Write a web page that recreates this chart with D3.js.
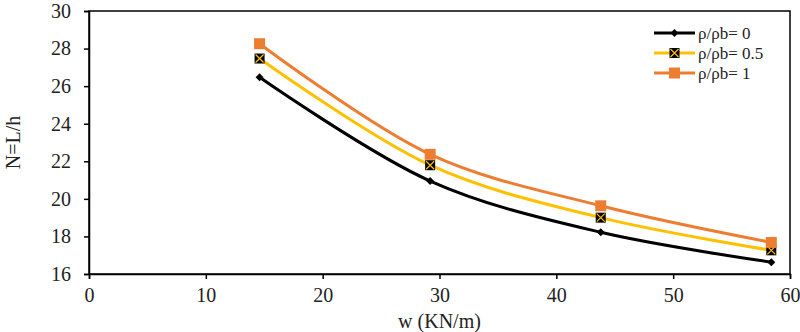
<!DOCTYPE html>
<html>
<head>
<meta charset="utf-8">
<script src="https://cdn.jsdelivr.net/npm/d3@7"></script>
<style>
  body { margin: 0; background: #fff; }
  svg text { font-family: "Liberation Serif", serif !important; }
</style>
</head>
<body>
<div id="chart"></div>
<script>
// data
const loads = [14.6, 29.2, 43.8, 58.4];
const ratio0 = [26.47, 20.95, 18.22, 16.63];
const ratio05 = [27.47, 21.79, 19.0, 17.26];
const ratio1 = [28.26, 22.37, 19.63, 17.68];
const seriesNames = ["ρ/ρb= 0", "ρ/ρb= 0.5", "ρ/ρb= 1"];
const xTicks = [0, 10, 20, 30, 40, 50, 60];
const yTicks = [16, 18, 20, 22, 24, 26, 28, 30];

const width = 800, height = 332;
const margin = { top: 11, right: 10, bottom: 58, left: 89 };
const innerW = width - margin.left - margin.right;
const innerH = height - margin.top - margin.bottom;

const svg = d3.select("#chart").append("svg")
  .attr("width", width)
  .attr("height", height);

const chart = svg.append("g")
  .attr("transform", `translate(${margin.left},${margin.top})`);

const xScale = d3.scaleLinear().domain([0, 60]).range([0, innerW]);
const yScale = d3.scaleLinear().domain([16, 30]).range([innerH, 0]);

// frame
chart.append("rect")
  .attr("width", innerW)
  .attr("height", innerH)
  .attr("fill", "none")
  .attr("stroke", "#000")
  .attr("stroke-width", 1.5);

const xAxis = chart.append("g")
  .attr("transform", `translate(0,${innerH})`)
  .call(d3.axisBottom(xScale).tickValues(xTicks).tickSize(5).tickPadding(9));
const yAxis = chart.append("g")
  .call(d3.axisLeft(yScale).tickValues(yTicks).tickSize(5).tickPadding(13));

[xAxis, yAxis].forEach(ax => {
  ax.attr("font-family", "Liberation Serif");
  ax.select(".domain").attr("stroke-width", 1.5);
  ax.selectAll(".tick line").attr("stroke-width", 1.5);
  ax.selectAll("text")
    .attr("font-size", 20)
    .attr("fill", "#222");
});

svg.append("text")
  .attr("x", margin.left + innerW / 2)
  .attr("y", height - 4)
  .attr("text-anchor", "middle")
  .attr("font-size", 20)
  .attr("fill", "#222")
  .text("w (KN/m)");

svg.append("text")
  .attr("transform", `translate(20,${margin.top + innerH / 2}) rotate(-90)`)
  .attr("text-anchor", "middle")
  .attr("font-size", 20)
  .attr("fill", "#222")
  .text("N=L/h");

const series = [
  { name: seriesNames[0], values: ratio0, color: "#000000", marker: "diamond" },
  { name: seriesNames[1], values: ratio05, color: "#FFC000", marker: "xbox" },
  { name: seriesNames[2], values: ratio1, color: "#ED7D31", marker: "square" }
];

const line = d3.line()
  .x((d, i) => xScale(loads[i]))
  .y(d => yScale(d))
  .curve(d3.curveCatmullRom.alpha(0.5));

function drawMarker(g, type, color) {
  if (type === "diamond") {
    g.append("path")
      .attr("d", "M0,-4L4,0L0,4L-4,0Z")
      .attr("fill", "#000");
  } else if (type === "xbox") {
    g.append("rect")
      .attr("x", -5).attr("y", -5).attr("width", 10).attr("height", 10)
      .attr("fill", "#000");
    g.append("path")
      .attr("d", "M-4,-4L4,4M4,-4L-4,4")
      .attr("stroke", color)
      .attr("stroke-width", 1.2);
  } else {
    g.append("rect")
      .attr("x", -5.5).attr("y", -5.5).attr("width", 11).attr("height", 11)
      .attr("fill", color);
  }
}

series.forEach(s => {
  chart.append("path")
    .datum(s.values)
    .attr("fill", "none")
    .attr("stroke", s.color)
    .attr("stroke-width", 3)
    .attr("d", line);
  s.values.forEach((v, i) => {
    const g = chart.append("g")
      .attr("transform", `translate(${xScale(loads[i])},${yScale(v)})`);
    drawMarker(g, s.marker, s.color);
  });
});

// legend
const legend = svg.append("g").attr("transform", "translate(654,33)");
series.forEach((s, i) => {
  const row = legend.append("g").attr("transform", `translate(0,${i * 20})`);
  row.append("line")
    .attr("x1", 0).attr("x2", 41)
    .attr("stroke", s.color)
    .attr("stroke-width", 3);
  const m = row.append("g").attr("transform", "translate(20.5,0)");
  drawMarker(m, s.marker, s.color);
  row.append("text")
    .attr("x", 44)
    .attr("y", 6)
    .attr("font-size", 17)
    .attr("fill", "#222")
    .text(s.name);
});
</script>
</body>
</html>
